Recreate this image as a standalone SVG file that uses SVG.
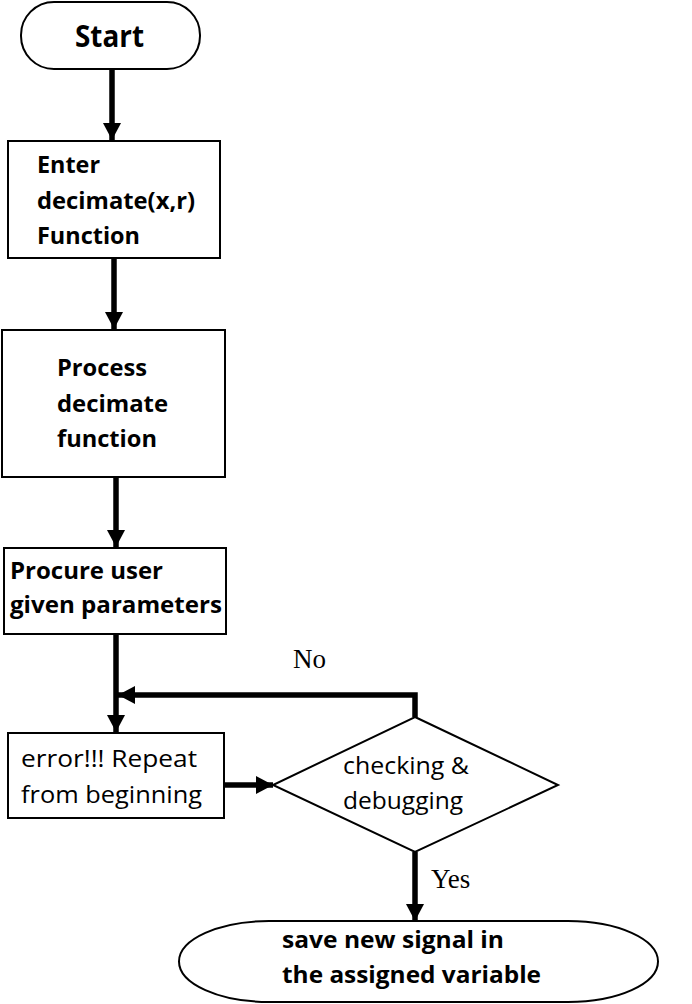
<svg xmlns="http://www.w3.org/2000/svg" width="692" height="1004" viewBox="0 0 692 1004">
<style>
.box{fill:#fff;stroke:#000;stroke-width:2}
.b{font-family:"Open Sans",Lato,sans-serif;font-weight:bold;font-size:24px;fill:#000}
.big{font-size:31px}
.n{font-family:"Open Sans",Lato,sans-serif;font-size:23px;fill:#000}
.t{font-family:"Liberation Serif",serif;font-size:27px;fill:#000}
.c{fill:none;stroke:#000;stroke-width:5.5}
</style>
<defs>
<marker id="ah" markerUnits="userSpaceOnUse" markerWidth="18" markerHeight="18" refX="17" refY="9" orient="auto">
<path d="M0,0 L17,9 L0,18 Z" fill="#000"/>
</marker>
</defs>
<rect width="692" height="1004" fill="#fff"/>
<g id="connectors">
<line class="c" x1="112" y1="69" x2="112" y2="140" marker-end="url(#ah)"/>
<line class="c" x1="114" y1="258" x2="114" y2="329" marker-end="url(#ah)"/>
<line class="c" x1="116" y1="477" x2="116" y2="547" marker-end="url(#ah)"/>
<line class="c" x1="116" y1="634" x2="116" y2="732" marker-end="url(#ah)"/>
<polyline class="c" points="415,717 415,695 118,695" marker-end="url(#ah)"/>
<line class="c" x1="224" y1="785" x2="273" y2="785" marker-end="url(#ah)"/>
<line class="c" x1="415" y1="852" x2="415" y2="921" marker-end="url(#ah)"/>
<text class="t" x="293" y="668">No</text>
<text class="t" x="431" y="888">Yes</text>
</g>
<g id="start">
<rect class="box" x="21" y="2" width="179" height="67" rx="33" ry="33"/>
<text class="b big" x="75" y="47" textLength="69" lengthAdjust="spacingAndGlyphs">Start</text>
</g>
<g id="enter">
<rect class="box" x="8" y="141" width="212" height="117"/>
<text class="b" x="37" y="173" textLength="63" lengthAdjust="spacingAndGlyphs">Enter</text>
<text class="b" x="37" y="209" textLength="158" lengthAdjust="spacingAndGlyphs">decimate(x,r)</text>
<text class="b" x="37" y="244" textLength="103" lengthAdjust="spacingAndGlyphs">Function</text>
</g>
<g id="process">
<rect class="box" x="2" y="330" width="223" height="147"/>
<text class="b" x="57" y="376" textLength="90" lengthAdjust="spacingAndGlyphs">Process</text>
<text class="b" x="57" y="412" textLength="111" lengthAdjust="spacingAndGlyphs">decimate</text>
<text class="b" x="57" y="447" textLength="100" lengthAdjust="spacingAndGlyphs">function</text>
</g>
<g id="procure">
<rect class="box" x="4" y="548" width="222" height="86"/>
<text class="b" x="10" y="579" textLength="153" lengthAdjust="spacingAndGlyphs">Procure user</text>
<text class="b" x="10" y="613" textLength="212" lengthAdjust="spacingAndGlyphs">given parameters</text>
</g>
<g id="error">
<rect class="box" x="8" y="733" width="216" height="85"/>
<text class="n" x="21" y="767" textLength="176" lengthAdjust="spacingAndGlyphs">error!!! Repeat</text>
<text class="n" x="21" y="803" textLength="181" lengthAdjust="spacingAndGlyphs">from beginning</text>
</g>
<g id="check">
<polygon class="box" points="415,717 558,785 415,852 273,785"/>
<text class="n" x="343" y="774" textLength="126" lengthAdjust="spacingAndGlyphs">checking &amp;</text>
<text class="n" x="343" y="809" textLength="120" lengthAdjust="spacingAndGlyphs">debugging</text>
</g>
<g id="save">
<rect class="box" x="179" y="921" width="479" height="81" rx="90" ry="40.5"/>
<text class="b" x="282" y="948" textLength="222" lengthAdjust="spacingAndGlyphs">save new signal in</text>
<text class="b" x="282" y="983" textLength="259" lengthAdjust="spacingAndGlyphs">the assigned variable</text>
</g>
</svg>
